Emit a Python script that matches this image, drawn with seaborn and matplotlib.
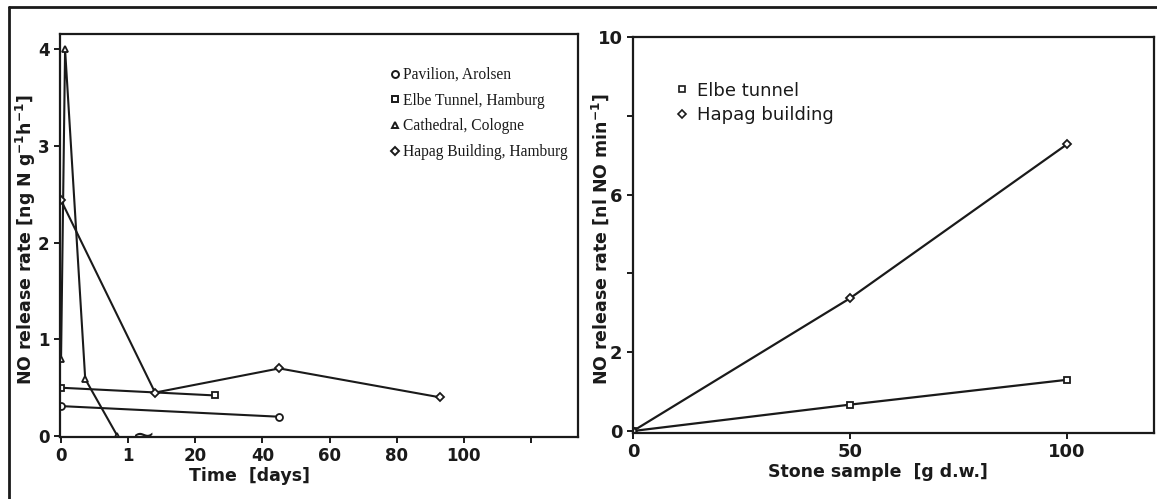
import numpy as np
import pandas as pd
import matplotlib
matplotlib.use("Agg")
import matplotlib.pyplot as plt
from matplotlib.lines import Line2D
import seaborn as sns

# ---------------- data ----------------
# Left panel: NO release rate vs time (days); axis broken after day 1
pavilion_days = [0, 45]
pavilion_rate = [0.31, 0.20]
elbe_days = [0, 26]
elbe_rate = [0.50, 0.42]
cathedral_days = [0, 0.06, 0.36, 0.84]
cathedral_rate = [0.80, 4.00, 0.59, 0.00]
hapag_days = [0, 8, 45, 93]
hapag_rate = [2.44, 0.45, 0.70, 0.40]
left_series = ["Pavilion, Arolsen", "Elbe Tunnel, Hamburg",
               "Cathedral, Cologne", "Hapag Building, Hamburg"]
left_xticks = [0, 1, 20, 40, 60, 80, 100, 120]
left_xticklabels = ["0", "1", "20", "40", "60", "80", "100", ""]
left_yticks = [0, 1, 2, 3, 4]

# Right panel: NO release rate vs stone sample mass
sample_mass = [0, 50, 100]
elbe_nl = [0.0, 0.67, 1.30]
hapag_nl = [0.0, 3.37, 7.28]
right_series = ["Elbe tunnel", "Hapag building"]
right_xticks = [0, 50, 100]
right_yticks = [0, 2, 4, 6, 8, 10]
right_yticklabels = ["0", "2", "", "6", "", "10"]

# ---------------- style ----------------
sns.set_style("ticks")
plt.rcParams["font.family"] = ["DejaVu Sans"]
INK = "#1a1a1a"
plt.rcParams.update({
    "axes.edgecolor": INK, "axes.linewidth": 1.6,
    "xtick.color": INK, "ytick.color": INK,
    "xtick.major.width": 1.4, "ytick.major.width": 1.4,
    "xtick.major.size": 4, "ytick.major.size": 4,
    "text.color": INK, "axes.labelcolor": INK,
})

fig = plt.figure(figsize=(11.57, 4.99), dpi=100)
axL = fig.add_axes([0.0519, 0.1242, 0.4477, 0.8076])
axR = fig.add_axes([0.5471, 0.1323, 0.4503, 0.7936])

# ---------------- left panel ----------------
dfL = pd.concat([
    pd.DataFrame({"days": pavilion_days, "rate": pavilion_rate, "site": left_series[0]}),
    pd.DataFrame({"days": elbe_days, "rate": elbe_rate, "site": left_series[1]}),
    pd.DataFrame({"days": cathedral_days, "rate": cathedral_rate, "site": left_series[2]}),
    pd.DataFrame({"days": hapag_days, "rate": hapag_rate, "site": left_series[3]}),
], ignore_index=True)
markersL = dict(zip(left_series, ["o", "s", "^", "D"]))
msizeL = dict(zip(left_series, [5, 5, 5, 4]))

sns.lineplot(data=dfL, x="days", y="rate", style="site", style_order=left_series,
             markers=markersL, dashes=False, color=INK, sort=False, estimator=None,
             linewidth=1.5, markersize=5, markerfacecolor="white",
             markeredgecolor=INK, markeredgewidth=1.3, legend=False, ax=axL)
for line in axL.lines:
    if line.get_marker() == "D":
        line.set_markersize(4)


def fwd(d):
    d = np.asarray(d, dtype=float)
    return np.where(d <= 1, d, 1 + d / 20.0)


def inv(u):
    u = np.asarray(u, dtype=float)
    return np.where(u <= 1, u, np.where(u < 1.05, 1.0, (u - 1) * 20.0))


axL.set_xscale("function", functions=(fwd, inv))
axL.set_xlim(-0.015, 134)
axL.set_ylim(-0.01, 4.16)
axL.set_xticks(left_xticks)
axL.set_xticklabels(left_xticklabels)
axL.set_yticks(left_yticks)
axL.tick_params(labelsize=12)
for t in axL.get_xticklabels() + axL.get_yticklabels():
    t.set_fontweight("bold")
axL.set_xlabel("Time  [days]", fontsize=12.5, fontweight="bold", labelpad=1)
axL.xaxis.set_label_coords(0.365, -0.075)
axL.set_ylabel(r"NO release rate [ng N g$^{\mathbf{-1}}$h$^{\mathbf{-1}}$]",
               fontsize=12.5, fontweight="bold", labelpad=2)
axL.yaxis.set_label_coords(-0.042, 0.49)
# axis-break mark on the time axis
axL.text(4.6, 0.0, "~", fontsize=20, ha="center", va="center", color=INK)

hL = [Line2D([], [], ls="none", marker=markersL[s], markersize=msizeL[s],
             markerfacecolor="white", markeredgecolor=INK, markeredgewidth=1.4)
      for s in left_series]
axL.legend(hL, left_series, loc="upper right", bbox_to_anchor=(1.0, 0.945),
           frameon=False, handlelength=0.5, handletextpad=0.25,
           labelspacing=0.62, borderaxespad=0.3,
           prop={"family": "Liberation Serif", "size": 11.2})

# ---------------- right panel ----------------
dfR = pd.concat([
    pd.DataFrame({"mass": sample_mass, "rate": elbe_nl, "site": right_series[0]}),
    pd.DataFrame({"mass": sample_mass, "rate": hapag_nl, "site": right_series[1]}),
], ignore_index=True)
markersR = dict(zip(right_series, ["s", "D"]))
sns.lineplot(data=dfR, x="mass", y="rate", style="site", style_order=right_series,
             markers=markersR, dashes=False, color=INK, sort=False, estimator=None,
             linewidth=1.6, markersize=5, markerfacecolor="white",
             markeredgecolor=INK, markeredgewidth=1.3, legend=False, ax=axR)
for line in axR.lines:
    if line.get_marker() == "D":
        line.set_markersize(4)
axR.set_xlim(0, 120)
axR.set_ylim(-0.05, 10)
axR.set_xticks(right_xticks)
axR.set_yticks(right_yticks)
axR.set_yticklabels(right_yticklabels)
axR.tick_params(labelsize=13)
for t in axR.get_xticklabels() + axR.get_yticklabels():
    t.set_fontweight("bold")
axR.set_xlabel("Stone sample  [g d.w.]", fontsize=12.5, fontweight="bold", labelpad=1)
axR.xaxis.set_label_coords(0.47, -0.075)
axR.set_ylabel(r"NO release rate [nl NO min$^{\mathbf{-1}}$]", fontsize=12.5,
               fontweight="bold", labelpad=2)
axR.yaxis.set_label_coords(-0.042, 0.49)
hR = [Line2D([], [], ls="none", marker=markersR[s], markersize=4,
             markerfacecolor="white", markeredgecolor=INK, markeredgewidth=1.2)
      for s in right_series]
axR.legend(hR, right_series, loc="upper left", bbox_to_anchor=(0.07, 0.905),
           frameon=False, handlelength=0.6, handletextpad=0.5, labelspacing=0.35,
           borderaxespad=0.0, prop={"family": "DejaVu Sans", "size": 13})

# ---------------- outer frame of the scanned page ----------------
fig.add_artist(Line2D([0.0078, 1.0], [0.986, 0.986], transform=fig.transFigure,
                      color=INK, lw=2.0))
fig.add_artist(Line2D([0.0078, 0.0078], [0.0, 0.986], transform=fig.transFigure,
                      color=INK, lw=2.0))

fig.savefig("out.png", dpi=100, facecolor="white")
